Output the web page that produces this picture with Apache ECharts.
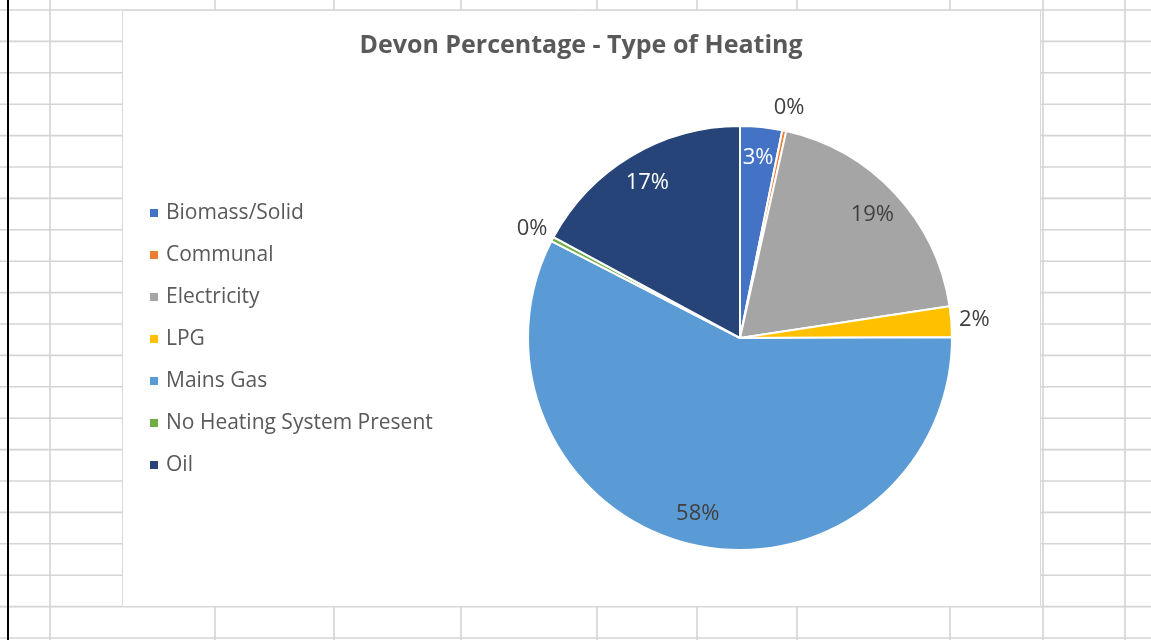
<!DOCTYPE html>
<html>
<head>
<meta charset="utf-8">
<script src="https://cdn.jsdelivr.net/npm/echarts@6/dist/echarts.min.js"></script>
<style>
  html, body { margin: 0; padding: 0; background: #ffffff; }
  #chart { width: 1151px; height: 640px; }
</style>
</head>
<body>
<div id="chart"></div>
<script>
// ---- data ----
const categories = ['Biomass/Solid', 'Communal', 'Electricity', 'LPG', 'Mains Gas', 'No Heating System Present', 'Oil'];
const shares = [3.2, 0.3, 19.1, 2.35, 57.6, 0.35, 17.1];
const chartTitle = 'Devon Percentage - Type of Heating';

// ---- styles ----
const sliceColors = ['#4472C4', '#ED7D31', '#A5A5A5', '#FFC000', '#5B9BD5', '#70AD47', '#264478'];
const labelInside = [true, false, true, false, true, false, true];
const labelColors = ['#ffffff', '#404040', '#404040', '#404040', '#404040', '#404040', '#ffffff'];

// ---- spreadsheet backdrop (decoration only) ----
const sheetCols = [50, 215, 334, 461, 597, 697, 797, 950, 1043, 1125];
const sheetRowTop = 10, sheetRowStep = 31.4, sheetRowCount = 21;
const plotBox = { x: 122, y: 10, w: 918, h: 596 };

const font = '"Open Sans", "Noto Sans", sans-serif';
const CX = 740, CY = 338, R = 212;

const backdrop = [];
sheetCols.forEach(function (x) {
  backdrop.push({ type: 'line', z: -20, silent: true,
    shape: { x1: x, y1: 0, x2: x, y2: 640 },
    style: { stroke: '#d4d4d4', lineWidth: 1.6 } });
});
for (let k = 0; k < sheetRowCount; k++) {
  const y = sheetRowTop + sheetRowStep * k;
  backdrop.push({ type: 'line', z: -20, silent: true,
    shape: { x1: 0, y1: y, x2: 1151, y2: y },
    style: { stroke: '#d4d4d4', lineWidth: 1.6 } });
}
backdrop.push({ type: 'rect', z: -15, silent: true,
  shape: { x: 7, y: 0, width: 2, height: 640 },
  style: { fill: '#000000' } });
backdrop.push({ type: 'rect', z: -10, silent: true,
  shape: { x: plotBox.x + 0.5, y: plotBox.y + 0.5, width: plotBox.w, height: plotBox.h },
  style: { fill: '#ffffff', stroke: '#d9d9d9', lineWidth: 1 } });

const sliceData = categories.map(function (name, i) {
  return { name: name, value: shares[i], itemStyle: { color: sliceColors[i] } };
});
function labelData(insideWanted) {
  return categories.map(function (name, i) {
    return {
      name: name, value: shares[i],
      label: { show: labelInside[i] === insideWanted, color: labelColors[i] }
    };
  });
}
const pctFormatter = function (p) { return Math.round(p.percent) + '%'; };

const chart = echarts.init(document.getElementById('chart'), null, { renderer: 'canvas' });
chart.setOption({
  animation: false,
  backgroundColor: 'transparent',
  graphic: { elements: backdrop },
  title: {
    text: chartTitle,
    left: 581, top: 30, textAlign: 'center', padding: 0,
    textStyle: { fontFamily: font, fontSize: 25, fontWeight: 'bold', color: '#595959', lineHeight: 31 }
  },
  legend: {
    orient: 'vertical', left: 148, top: 200, padding: 0,
    itemWidth: 10, itemHeight: 10, itemGap: 16, icon: 'rect',
    selectedMode: false,
    data: categories.map(function (n, i) { return { name: n, itemStyle: { color: sliceColors[i] } }; }),
    textStyle: { fontFamily: font, fontSize: 21, color: '#595959', lineHeight: 26, padding: [0, 0, 0, 2] }
  },
  series: [
    {
      type: 'pie', name: 'slices',
      center: [CX, CY], radius: [0, R],
      startAngle: 90, clockwise: true, avoidLabelOverlap: false,
      silent: true,
      itemStyle: { borderColor: '#ffffff', borderWidth: 2 },
      label: { show: false }, labelLine: { show: false },
      emphasis: { disabled: true },
      data: sliceData
    },
    {
      type: 'pie', name: 'insideLabels',
      center: [CX, CY], radius: [0, 356],
      startAngle: 90, clockwise: true, avoidLabelOverlap: false,
      silent: true, legendHoverLink: false,
      itemStyle: { color: 'rgba(0,0,0,0)', borderWidth: 0 },
      label: { position: 'inside', fontFamily: font, fontSize: 22, formatter: pctFormatter },
      labelLine: { show: false },
      emphasis: { disabled: true },
      data: labelData(true)
    },
    {
      type: 'pie', name: 'outsideLabels',
      center: [CX, CY], radius: [0, 464],
      startAngle: 90, clockwise: true, avoidLabelOverlap: false,
      silent: true, legendHoverLink: false,
      itemStyle: { color: 'rgba(0,0,0,0)', borderWidth: 0 },
      label: { position: 'inside', fontFamily: font, fontSize: 22, formatter: pctFormatter },
      labelLine: { show: false },
      emphasis: { disabled: true },
      data: labelData(false)
    }
  ]
});
</script>
</body>
</html>
